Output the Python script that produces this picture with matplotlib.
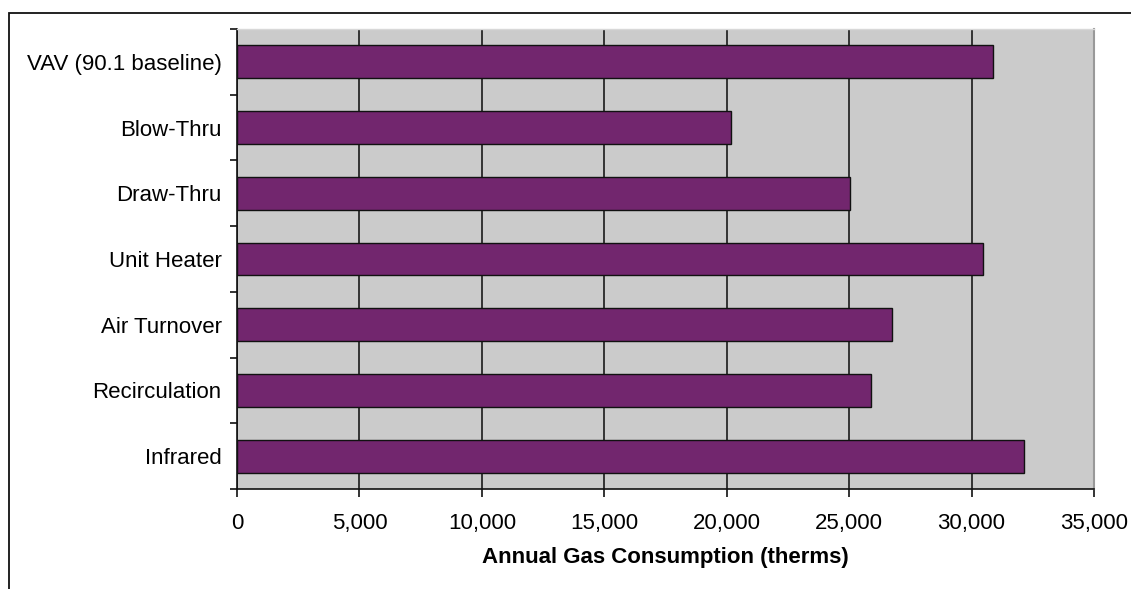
import matplotlib.pyplot as plt
from matplotlib.patches import Rectangle
from matplotlib.ticker import FuncFormatter


systems = [
    "VAV (90.1 baseline)",
    "Blow-Thru",
    "Draw-Thru",
    "Unit Heater",
    "Air Turnover",
    "Recirculation",
    "Infrared",
]
gas_therms = [30890, 20190, 25030, 30480, 26770, 25900, 32160]
x_ticks = [0, 5000, 10000, 15000, 20000, 25000, 30000, 35000]

BAR_COLOR = "#72266E"
BG_COLOR = "#CBCBCB"

plt.rcParams["font.family"] = ["Liberation Sans", "DejaVu Sans"]

fig = plt.figure(figsize=(11.31, 5.89), dpi=100)

# outer chart frame (cut off on right and bottom like the original)
fig.patches.append(
    Rectangle(
        (9 / 1131, -0.1),
        1.2,
        1 - 13 / 589 + 0.1,
        transform=fig.transFigure,
        fill=False,
        edgecolor="#111111",
        linewidth=1.3,
    )
)

ax = fig.add_axes([237 / 1131, 1 - 489 / 589, (1094 - 237) / 1131, (489 - 29) / 589])
ax.set_facecolor(BG_COLOR)

positions = list(range(len(systems)))

ax.barh(
    positions,
    gas_therms,
    height=0.5,
    color=BAR_COLOR,
    edgecolor="#111111",
    linewidth=1.0,
    zorder=3
)

ax.set_xlim(0, 35000)
ax.set_ylim(len(systems) - 0.5, -0.5)

ax.set_xticks(x_ticks)
ax.xaxis.set_major_formatter(FuncFormatter(lambda v, p: f"{int(v):,}"))
ax.grid(axis="x", color="#1a1a1a", linewidth=1.2, zorder=1)

# category labels between boundary ticks (Excel style)
ax.set_yticks([p for p in positions])
ax.set_yticklabels(systems)
ax.set_yticks([p - 0.5 for p in positions] + [len(systems) - 0.5], minor=True)
ax.tick_params(axis="y", which="major", length=0, pad=11, labelsize=16)
ax.tick_params(axis="y", which="minor", length=5, width=1.2, color="#111111")
ax.tick_params(axis="x", length=6, width=1.2, color="#111111", pad=11, labelsize=16)

for side in ["left", "bottom"]:
    ax.spines[side].set_color("#111111")
    ax.spines[side].set_linewidth(1.2)
ax.spines["right"].set_color("#999999")
ax.spines["right"].set_linewidth(1.5)
ax.spines["top"].set_color("#d8d8d8")
ax.spines["top"].set_linewidth(1.0)

ax.set_xlabel(
    "Annual Gas Consumption (therms)",
    fontsize=16,
    fontweight="bold",
    labelpad=10
)

plt.savefig("out.png", dpi=100)
plt.close()
